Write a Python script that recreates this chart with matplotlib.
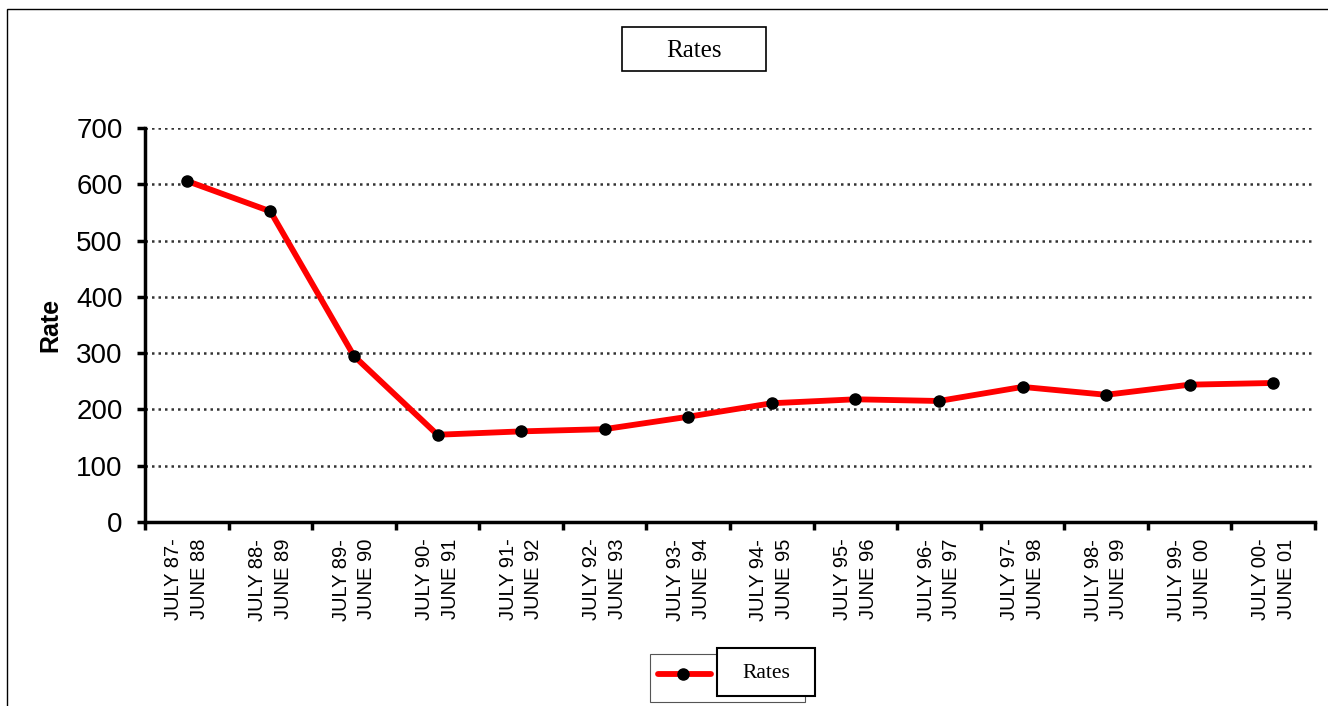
import numpy as np
import matplotlib
matplotlib.use("Agg")
import matplotlib.pyplot as plt
from matplotlib.patches import Rectangle
from matplotlib.lines import Line2D

# yearly periods and their rates
periods = ["JULY 87-\nJUNE 88", "JULY 88-\nJUNE 89", "JULY 89-\nJUNE 90",
           "JULY 90-\nJUNE 91", "JULY 91-\nJUNE 92", "JULY 92-\nJUNE 93",
           "JULY 93-\nJUNE 94", "JULY 94-\nJUNE 95", "JULY 95-\nJUNE 96",
           "JULY 96-\nJUNE 97", "JULY 97-\nJUNE 98", "JULY 98-\nJUNE 99",
           "JULY 99-\nJUNE 00", "JULY 00-\nJUNE 01"]
rates = [606, 552, 295, 155, 161, 165, 187, 211, 218, 215, 240, 226, 244, 247]
yticks = [0, 100, 200, 300, 400, 500, 600, 700]

W, H = 1328, 706
fig = plt.figure(figsize=(W / 100, H / 100), dpi=100)
ax = fig.add_axes([145 / W, 1 - 522 / H, 1170 / W, 394 / H])

x = np.arange(len(rates))
ax.plot(x, rates, color="#ff0000", lw=4.2, marker="o", ms=8,
        mfc="black", mec="black", zorder=3, solid_capstyle="butt")

ax.set_xlim(-0.5, len(rates) - 0.5)
ax.set_ylim(0, 700)
ax.set_yticks(yticks)
ax.set_yticklabels([str(v) for v in yticks], fontsize=20, family="Liberation Sans")
ax.set_xticks(x)
ax.set_xticklabels(periods, rotation=90, fontsize=14.5, family="Liberation Sans",
                   ha="center", va="top", multialignment="right", linespacing=1.45)
ax.set_xticks(np.arange(-0.5, len(rates), 1), minor=True)
ax.tick_params(axis="x", which="major", length=0, pad=12)
ax.tick_params(axis="x", which="minor", length=6, width=2.5, direction="out")
ax.tick_params(axis="y", length=6, width=2.5, direction="out", pad=10)

for side in ["top", "right"]:
    ax.spines[side].set_visible(False)
ax.spines["left"].set_linewidth(2.5)
ax.spines["bottom"].set_linewidth(2.5)

ax.yaxis.grid(True, color="#333333", lw=1.8, linestyle=(0, (1, 1.6)))
ax.set_axisbelow(True)
ax.set_ylabel("Rate", fontsize=18, fontweight="bold", family="Liberation Sans", labelpad=10)

# outer chart border
fig.add_artist(Rectangle((7 / W, -0.1), 1.2, 1 - 9 / H + 0.1, transform=fig.transFigure,
                         fill=False, ec="black", lw=1))

# title box
fig.add_artist(Rectangle((622 / W, 1 - 71 / H), 144 / W, 44 / H, transform=fig.transFigure,
                         fill=False, ec="black", lw=1.2))
fig.text(694 / W, 1 - 51 / H, "Rates", fontsize=18, family="Liberation Serif",
         ha="center", va="center")

# legend
fig.add_artist(Rectangle((650 / W, 1 - 702 / H), 155 / W, 48 / H, transform=fig.transFigure,
                         fill=False, ec="#555555", lw=0.8))
fig.add_artist(Line2D([658 / W, 711 / W], [1 - 674 / H, 1 - 674 / H], transform=fig.transFigure,
                      color="#ff0000", lw=4.2, solid_capstyle="round"))
fig.add_artist(Line2D([683 / W], [1 - 674 / H], transform=fig.transFigure, marker="o",
                      ms=8, mfc="black", mec="black"))
fig.add_artist(Rectangle((717 / W, 1 - 696 / H), 98 / W, 48 / H, transform=fig.transFigure,
                         fc="white", ec="black", lw=1.5))
fig.text(766 / W, 1 - 673 / H, "Rates", fontsize=15.5, family="Liberation Serif",
         ha="center", va="center")

fig.savefig("out.png", dpi=100)
